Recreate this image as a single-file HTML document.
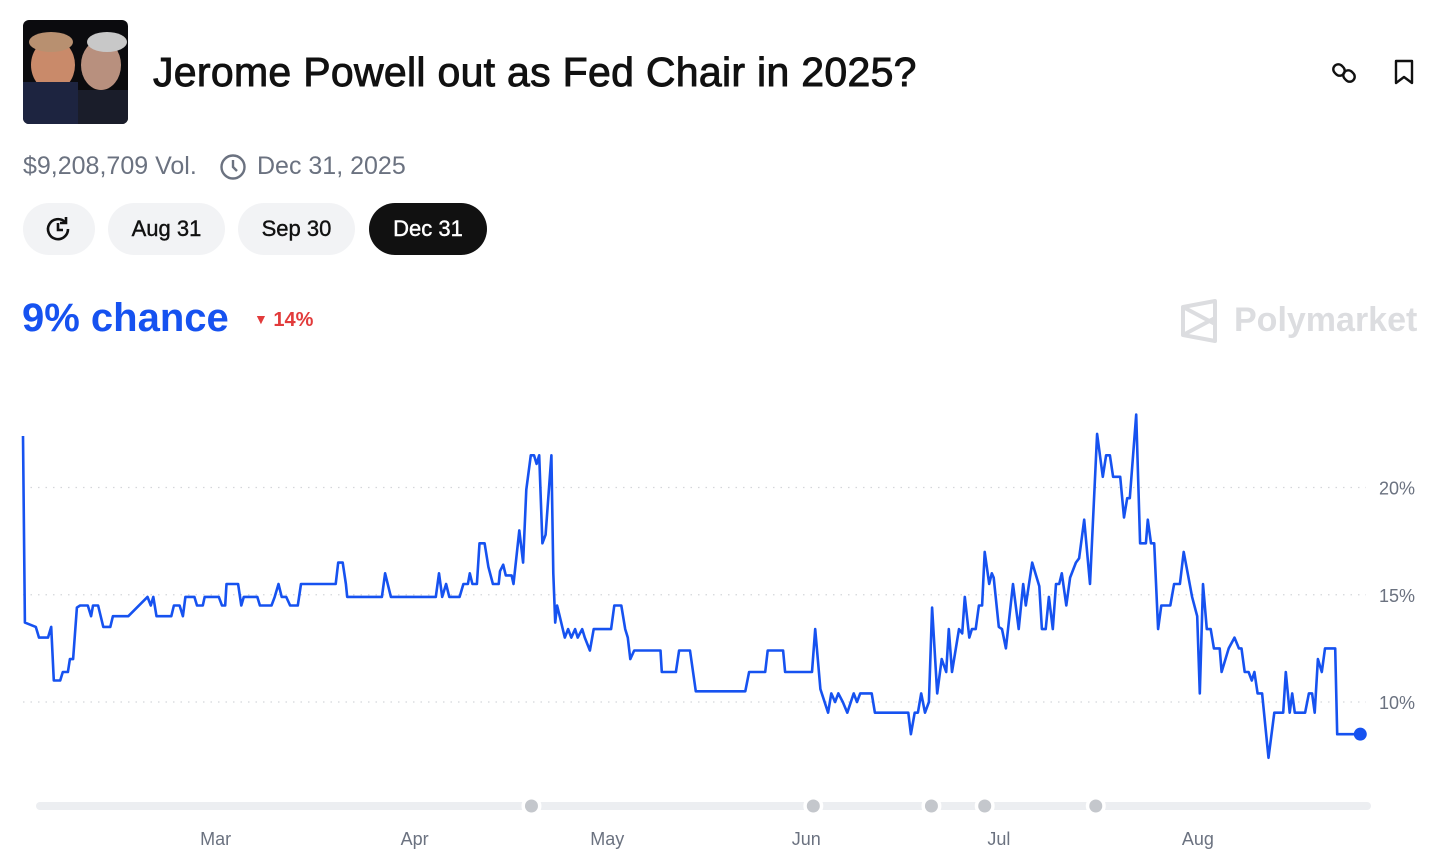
<!DOCTYPE html>
<html><head><meta charset="utf-8">
<style>
body{margin:0;width:1456px;height:865px;background:#fff;font-family:"Liberation Sans",sans-serif;position:relative;overflow:hidden}
.abs{position:absolute}
.pill{position:absolute;top:203px;height:52px;border-radius:26px;background:#f2f3f5;font-size:22px;line-height:52px;text-align:center;color:#111;font-weight:500;-webkit-text-stroke:0.4px #111}
</style></head><body>
<div class="abs" style="left:23px;top:20px;width:105px;height:104px;border-radius:6px;background:#0b0b0e;overflow:hidden">
<svg width="105" height="104"><ellipse cx="30" cy="45" rx="22" ry="26" fill="#c98a6a"/><ellipse cx="28" cy="22" rx="22" ry="10" fill="#b89070"/><rect x="0" y="62" width="55" height="42" fill="#1d2440"/><ellipse cx="78" cy="45" rx="20" ry="25" fill="#b8907e"/><ellipse cx="84" cy="22" rx="20" ry="10" fill="#c8c8c8"/><rect x="55" y="70" width="50" height="34" fill="#1a1d2a"/></svg></div>
<div class="abs" style="left:153px;top:49px;font-size:41px;font-weight:500;color:#111;-webkit-text-stroke:0.9px #111;letter-spacing:0.3px">Jerome Powell out as Fed Chair in 2025?</div>
<svg class="abs" style="left:1330px;top:58px" width="30" height="30" viewBox="0 0 30 30"><g fill="none" stroke="#111" stroke-width="2.4"><rect x="3" y="7" width="12" height="10" rx="5" transform="rotate(45 9 12)"/><rect x="13" y="13" width="12" height="10" rx="5" transform="rotate(45 19 18)"/></g></svg>
<svg class="abs" style="left:1393px;top:58px" width="22" height="28"><path d="M3 3h16v22l-8-6-8 6z" fill="none" stroke="#111" stroke-width="2.4" stroke-linejoin="round"/></svg>
<div class="abs" style="left:23px;top:152px;font-size:25px;color:#6b7280">$9,208,709 Vol.</div>
<svg class="abs" style="left:219px;top:153px" width="28" height="28"><circle cx="14" cy="14" r="11.5" fill="none" stroke="#6b7280" stroke-width="2.4"/><path d="M14 7v7l4 4" fill="none" stroke="#6b7280" stroke-width="2.4"/></svg>
<div class="abs" style="left:257px;top:152px;font-size:25px;color:#6b7280">Dec 31, 2025</div>
<div class="pill" style="left:23px;width:72px;-webkit-text-stroke:0"><svg width="30" height="30" style="margin-top:11px"><path d="M24 15a10 10 0 1 1-3-7" fill="none" stroke="#111" stroke-width="2.6"/><path d="M22 3v6h-6" fill="none" stroke="#111" stroke-width="2.6"/><path d="M14 9v7h5" fill="none" stroke="#111" stroke-width="2.6"/></svg></div>
<div class="pill" style="left:108px;width:117px">Aug 31</div>
<div class="pill" style="left:238px;width:117px">Sep 30</div>
<div class="pill" style="left:369px;width:118px;background:#111;color:#fff;-webkit-text-stroke:0.4px #fff">Dec 31</div>
<div class="abs" style="left:22px;top:296px;font-size:40px;font-weight:700;color:#1652f0">9% chance</div>
<div class="abs" style="left:254px;top:309px;font-size:20px;font-weight:700;color:#e23b3b"><span style="font-size:14px;position:relative;top:-2px">▼</span> 14%</div>
<svg class="abs" style="left:1180px;top:299px" width="38" height="44"><path d="M3 8l32-6v40L3 36z M3 8l32 17 M3 36l32-17" fill="none" stroke="#dcdde0" stroke-width="4" stroke-linejoin="round"/></svg>
<div class="abs" style="left:1234px;top:301px;font-size:34px;font-weight:700;color:#dcdde0">Polymarket</div>
<svg class="abs" id="chart" style="left:0;top:0" width="1456" height="865"></svg>
<script>
const days=[0,0.3,2.0,2.5,3.9,4.4,4.8,5.8,6.2,7.0,7.3,7.8,8.4,8.9,10.1,10.6,10.9,11.7,12.5,13.6,14.0,16.4,19.4,19.9,20.3,20.8,23.1,23.5,24.4,24.9,25.3,26.7,27.1,28.0,28.3,30.5,31.0,31.5,31.7,33.5,34.0,34.4,36.5,36.9,38.7,39.2,39.8,40.3,41.0,41.6,42.8,43.3,48.7,49.1,49.8,50.3,50.5,55.9,56.4,57.3,64.3,64.8,65.3,65.9,66.4,68.0,68.6,69.3,69.6,70.0,70.7,71.1,71.9,72.5,73.2,74.1,74.3,74.8,75.2,76.1,76.4,77.3,77.9,78.4,79.1,79.6,80.0,80.4,80.9,81.4,82.3,82.6,82.9,83.2,83.6,84.4,84.9,85.4,86.0,86.4,87.1,87.5,88.3,88.9,91.6,92.1,93.2,93.8,94.2,94.6,95.2,99.3,99.5,101.7,102.2,103.9,104.8,112.5,113.1,115.6,116.0,118.4,118.7,122.9,123.4,124.2,125.4,125.9,126.5,127.0,127.7,128.4,129.4,129.9,130.4,132.2,132.7,137.9,138.3,138.9,139.4,139.9,140.5,141.1,141.6,142.4,143.1,143.8,144.2,144.7,145.8,146.3,146.7,147.4,147.8,148.4,148.9,149.4,149.8,150.5,150.9,151.2,152.0,152.5,153.1,154.2,155.1,155.8,156.2,157.2,158.3,158.7,159.3,159.8,160.4,160.9,161.4,161.8,162.5,163.1,164.0,164.5,165.3,166.2,167.3,168.2,168.7,169.3,169.8,170.9,171.5,172.0,172.4,173.4,174.0,174.9,175.2,175.7,176.2,176.8,177.3,178.7,179.3,180.2,180.8,182.1,182.9,183.3,183.8,184.4,185.0,185.5,186.4,186.7,187.8,188.7,189.4,189.8,190.3,190.9,191.4,191.8,192.3,193.0,194.0,194.9,196.3,196.7,197.3,197.7,198.1,199.7,200.3,200.8,201.2,201.7,202.3,202.8,204.4,204.7,208.3];
const values=[22.4,13.7,13.5,13.0,13.0,13.5,11.0,11.0,11.4,11.4,12.0,12.0,14.4,14.5,14.5,14.0,14.5,14.5,13.5,13.5,14.0,14.0,14.9,14.5,14.9,14.0,14.0,14.5,14.5,14.0,14.9,14.9,14.5,14.5,14.9,14.9,14.5,14.5,15.5,15.5,14.5,14.9,14.9,14.5,14.5,14.9,15.5,14.9,14.9,14.5,14.5,15.5,15.5,16.5,16.5,15.5,14.9,14.9,16.0,14.9,14.9,16.0,14.9,15.5,14.9,14.9,15.5,15.5,16.0,15.5,15.5,17.4,17.4,16.3,15.5,15.5,16.1,16.4,15.9,15.9,15.5,18.0,16.5,19.9,21.5,21.5,21.1,21.5,17.4,17.8,21.5,16.0,13.7,14.5,14.0,13.0,13.4,13.0,13.4,13.0,13.4,13.0,12.4,13.4,13.4,14.5,14.5,13.4,13.0,12.0,12.4,12.4,11.4,11.4,12.4,12.4,10.5,10.5,11.4,11.4,12.4,12.4,11.4,11.4,13.4,10.6,9.5,10.4,10.0,10.4,10.0,9.5,10.4,10.0,10.4,10.4,9.5,9.5,8.5,9.5,9.5,10.4,9.5,10.0,14.4,10.4,12.0,11.4,13.4,11.4,13.4,13.2,14.9,13.0,13.4,13.4,14.5,14.5,17.0,15.5,16.0,15.8,13.5,13.4,12.5,15.5,13.4,15.5,14.5,16.5,15.4,13.4,13.4,14.9,13.4,15.5,15.5,16.0,14.5,15.8,16.5,16.7,18.5,15.5,22.5,20.5,21.5,21.5,20.5,20.5,18.6,19.5,19.5,23.4,17.4,17.4,18.5,17.4,17.4,13.4,14.5,14.5,15.5,15.5,17.0,14.9,14.0,10.4,15.5,13.4,13.4,12.5,12.5,11.4,12.5,13.0,12.5,12.5,11.4,11.4,11.0,11.4,10.4,10.4,7.4,9.5,9.5,11.4,9.5,10.4,9.5,9.5,10.4,10.4,9.5,12.0,11.4,12.5,12.5,8.5,8.5];
const yTicks=[10,15,20];
const yTickLabels=["10%","15%","20%"];
const monthDays=[30,61,91,122,152,183];
const monthLabels=["Mar","Apr","May","Jun","Jul","Aug"];
const markerDays=[79.2,123.1,141.5,149.8,167.1];
const NS="http://www.w3.org/2000/svg";
const svg=document.getElementById('chart');
const xs=d=>23+d*6.42;
const ys=v=>702-(v-10)*21.45;
function mk(t,a){const e=document.createElementNS(NS,t);for(const k in a)e.setAttribute(k,a[k]);svg.appendChild(e);return e;}
yTicks.forEach((t,i)=>{
 const g=mk('line',{x1:23,x2:1366,y1:ys(t),y2:ys(t),stroke:'#d4d6da','stroke-width':1.2,'stroke-dasharray':'1.5 6'});
 
 
 const l=mk('text',{x:1379,y:ys(t)+7,'font-size':18,fill:'#6b7280','font-family':'Liberation Sans, sans-serif'});
 l.textContent=yTickLabels[i];
 
 
});
monthDays.forEach((d,i)=>{
 const l=mk('text',{x:xs(d),y:845,'font-size':18,fill:'#6b7280','text-anchor':'middle','font-family':'Liberation Sans, sans-serif'});
 l.textContent=monthLabels[i];
 
 
});
const track=mk('line',{x1:40,x2:1367,y1:806,y2:806,stroke:'#eceef1','stroke-width':8,'stroke-linecap':'round'});


markerDays.forEach(d=>{
 mk('circle',{cx:xs(d),cy:806,r:10,fill:'#fff'});
 const c=mk('circle',{cx:xs(d),cy:806,r:6.5,fill:'#c4c7cc'});
 
 
});
const p=mk('path',{d:days.map((d,i)=>(i?'L':'M')+xs(d).toFixed(1)+' '+ys(values[i]).toFixed(1)).join(''),fill:'none',stroke:'#1652f0','stroke-width':2.6,'stroke-linejoin':'round'});


const n=days.length-1;
const dot=mk('circle',{cx:xs(days[n]),cy:ys(values[n]),r:6.5,fill:'#1652f0'});


</script>
</body></html>
